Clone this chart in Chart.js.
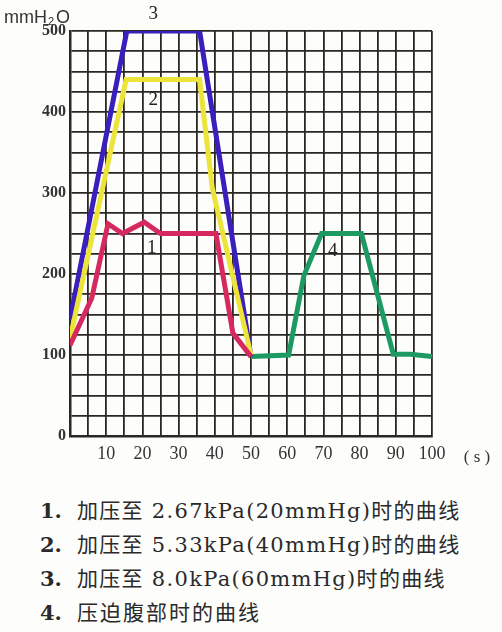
<!DOCTYPE html>
<html>
<head>
<meta charset="utf-8">
<script src="https://cdn.jsdelivr.net/npm/chart.js@4"></script>
<style>
    body { margin: 0; background: #fdfdfb; width: 502px; height: 632px; overflow: hidden; }
    .chart-wrap { position: relative; width: 502px; height: 470px; }
    .notes { margin: 24px 0 0 40px; font-family: 'DejaVu Serif', 'Noto Sans CJK SC', serif; font-size: 21px; color: #2a2a2a; letter-spacing: 1.3px; }
    .notes div { height: 34px; line-height: 34px; white-space: nowrap; }
    .notes .n { display: inline-block; width: 37px; font-weight: bold; letter-spacing: 0; }
    .notes .c { letter-spacing: 2px; }
</style>
</head>
<body>
<div class="chart-wrap"><canvas id="pressureChart" width="502" height="470"></canvas></div>
<div class="notes">
    <div><span class="n">1.</span>加压至 2.67kPa(20mmHg)时的曲线</div>
    <div><span class="n">2.</span>加压至 5.33kPa(40mmHg)时的曲线</div>
    <div><span class="n">3.</span>加压至 8.0kPa(60mmHg)时的曲线</div>
    <div><span class="n">4.</span><span class="c">压迫腹部时的曲线</span></div>
</div>
<script>
// time (s) and pressure (mmH2O)
const curve1X = [0, 6, 10.5, 14.5, 20.5, 25, 40.3, 45, 50];
const curve1Y = [112, 170, 262, 250, 264, 250, 250, 127, 98];
const curve2X = [0, 15.5, 35.8, 39.3, 50];
const curve2Y = [120, 440, 440, 306, 100];
const curve3X = [0, 15.7, 35.8, 50];
const curve3Y = [144, 500, 500, 98];
const curve4X = [50, 60.4, 64.6, 69.5, 80.5, 89.3, 94, 100];
const curve4Y = [98, 100, 198, 250, 250, 101, 101, 98];
const curveNames = ['1', '2', '3', '4'];

const toPoints = (xs, ys) => xs.map((x, i) => ({ x: x, y: ys[i] }));

const notesPlugin = {
    id: 'notes',
    afterDatasetsDraw(chart) {
        const ctx = chart.ctx;
        const xs = chart.scales.x, ys = chart.scales.y;
        ctx.save();
        ctx.fillStyle = '#222';
        ctx.textAlign = 'center';
        ctx.textBaseline = 'middle';
        ctx.font = '19px "Liberation Serif", serif';
        // curve numbers
        ctx.fillText(curveNames[2], xs.getPixelForValue(23), 14);
        ctx.fillText(curveNames[1], xs.getPixelForValue(23), ys.getPixelForValue(415));
        ctx.fillText(curveNames[0], xs.getPixelForValue(22.6), ys.getPixelForValue(232));
        ctx.fillText(curveNames[3], xs.getPixelForValue(72.6), ys.getPixelForValue(228));
        // units
        ctx.font = '17px "Liberation Serif", serif';
        ctx.fillStyle = '#333';
        ctx.fillText('( s )', 477, 458);
        ctx.textAlign = 'left';
        ctx.font = '18px "Liberation Sans", sans-serif';
        ctx.fillText('mmH', 4, 18);
        let x = 4 + ctx.measureText('mmH').width + 1;
        ctx.font = '11px "Liberation Sans", sans-serif';
        ctx.fillText('2', x, 22);
        x += ctx.measureText('2').width + 2;
        ctx.font = '18px "Liberation Sans", sans-serif';
        ctx.fillText('O', x, 18);
        ctx.restore();
    }
};

const makeSet = (xs, ys, color) => ({
    data: toPoints(xs, ys),
    borderColor: color,
    borderWidth: 5,
    pointRadius: 0,
    tension: 0,
    fill: false
});

new Chart(document.getElementById('pressureChart').getContext('2d'), {
    type: 'line',
    data: {
        datasets: [
            makeSet(curve1X, curve1Y, '#d62a5e'),
            makeSet(curve2X, curve2Y, '#ece43a'),
            makeSet(curve3X, curve3Y, '#3a1fbc'),
            makeSet(curve4X, curve4Y, '#1c9a62')
        ]
    },
    options: {
        responsive: false,
        animation: false,
        layout: { padding: { top: 31, right: 70, left: 0, bottom: 0 } },
        plugins: { legend: { display: false }, tooltip: { enabled: false } },
        scales: {
            x: {
                type: 'linear',
                min: 0,
                max: 100,
                afterFit: (s) => { s.height = 34; },
                ticks: {
                    stepSize: 5,
                    autoSkip: false,
                    maxRotation: 0,
                    padding: 7,
                    color: '#333',
                    font: { family: 'Liberation Serif', size: 18 },
                    callback: (v) => (v % 10 === 0 && v > 0 ? v : '')
                },
                grid: { color: '#2b2722', lineWidth: 1.8, drawTicks: false },
                border: { color: '#2b2722', width: 2.5 }
            },
            y: {
                min: 0,
                max: 500,
                afterFit: (s) => { s.width = 70; },
                ticks: {
                    stepSize: 25,
                    autoSkip: false,
                    padding: 4,
                    color: '#333',
                    font: { family: 'Liberation Serif', size: 16, weight: 'bold' },
                    callback: (v) => (v % 100 === 0 ? v : '')
                },
                grid: { color: '#2b2722', lineWidth: 1.8, drawTicks: false },
                border: { color: '#2b2722', width: 2.5 }
            }
        }
    },
    plugins: [notesPlugin]
});
</script>
</body>
</html>
